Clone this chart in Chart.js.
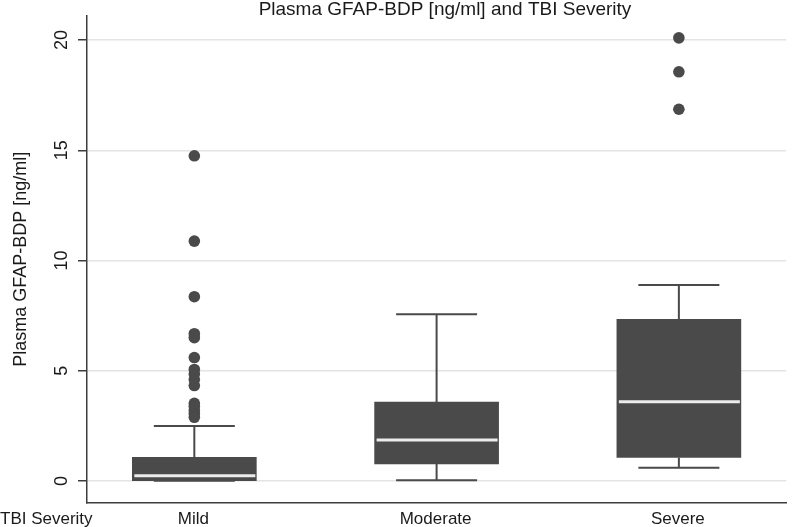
<!DOCTYPE html>
<html><head><meta charset="utf-8">
<script src="https://cdn.jsdelivr.net/npm/chart.js@4.4.0/dist/chart.umd.min.js"></script>
<style>html,body{margin:0;padding:0;background:#fff}canvas{display:block}</style>
</head><body>
<canvas id="c" width="792" height="527"></canvas>
<script>
// ---- data ----
const categories = ['Mild', 'Moderate', 'Severe'];
const whiskerLow  = [0.01, 0.03, 0.60];
const q1          = [0.01, 0.77, 1.07];
const median      = [0.24, 1.86, 3.60];
const q3          = [1.07, 3.58, 7.33];
const whiskerHigh = [2.49, 7.56, 8.89];
const outliersMild     = [14.75, 10.88, 8.36, 6.68, 6.50, 5.60, 5.06, 4.85, 4.60, 4.33, 3.52, 3.38, 3.20, 3.05, 2.89];
const outliersModerate = [];
const outliersSevere   = [20.10, 18.56, 16.86];
const yTicks = [0, 5, 10, 15, 20];
const chartTitle = 'Plasma GFAP-BDP [ng/ml] and TBI Severity';
const yTitle = 'Plasma GFAP-BDP [ng/ml]';
const xTitle = 'TBI Severity';

// ---- styling ----
const FONT = '"Liberation Sans", Arial, Helvetica, sans-serif';
const DARK = '#4a4a4a';
const AXIS = '#3c3c3c';
const TEXT = '#1a1a1a';

const outlierGroups = [outliersMild, outliersModerate, outliersSevere];
const outlierPoints = [];
outlierGroups.forEach((g, i) => g.forEach(v => outlierPoints.push({x: i + 1, y: v})));

const boxPlugin = {
  id: 'boxparts',
  beforeDatasetsDraw(chart) {
    const {ctx, scales: {x, y}} = chart;
    ctx.save();
    ctx.strokeStyle = DARK;
    ctx.lineWidth = 2;
    categories.forEach((c, i) => {
      const px = x.getPixelForValue(i + 1);
      const half = 40.5;
      ctx.beginPath();
      ctx.moveTo(px, y.getPixelForValue(whiskerLow[i]));
      ctx.lineTo(px, y.getPixelForValue(q1[i]));
      ctx.moveTo(px, y.getPixelForValue(q3[i]));
      ctx.lineTo(px, y.getPixelForValue(whiskerHigh[i]));
      ctx.moveTo(px - half, y.getPixelForValue(whiskerLow[i]));
      ctx.lineTo(px + half, y.getPixelForValue(whiskerLow[i]));
      ctx.moveTo(px - half, y.getPixelForValue(whiskerHigh[i]));
      ctx.lineTo(px + half, y.getPixelForValue(whiskerHigh[i]));
      ctx.stroke();
    });
    ctx.restore();
  },
  afterDatasetsDraw(chart) {
    const {ctx, scales: {x, y}} = chart;
    ctx.save();
    ctx.strokeStyle = '#ececec';
    ctx.lineWidth = 3;
    categories.forEach((c, i) => {
      const px = x.getPixelForValue(i + 1);
      const py = y.getPixelForValue(median[i]);
      ctx.beginPath();
      ctx.moveTo(px - 60, py);
      ctx.lineTo(px + 61, py);
      ctx.stroke();
    });
    ctx.restore();
  },
  afterDraw(chart) {
    const {ctx, chartArea, scales: {x, y}} = chart;
    ctx.save();
    ctx.fillStyle = TEXT;
    // title
    ctx.font = '19px ' + FONT;
    ctx.textAlign = 'center';
    ctx.textBaseline = 'alphabetic';
    ctx.fillText(chartTitle, 445, 15);
    // y tick labels (rotated)
    ctx.font = '18px ' + FONT;
    yTicks.forEach(v => {
      const py = y.getPixelForValue(v);
      ctx.save();
      ctx.translate(67, py);
      ctx.rotate(-Math.PI / 2);
      ctx.textAlign = 'center';
      ctx.textBaseline = 'alphabetic';
      ctx.fillText(String(v), 0, 0);
      ctx.restore();
    });
    // y title
    ctx.save();
    ctx.font = '18px ' + FONT;
    ctx.translate(26, (chartArea.top + chartArea.bottom) / 2);
    ctx.rotate(-Math.PI / 2);
    ctx.textAlign = 'center';
    ctx.textBaseline = 'alphabetic';
    ctx.fillText(yTitle, 0, 0);
    ctx.restore();
    // x labels
    ctx.font = '17px ' + FONT;
    ctx.textAlign = 'center';
    ctx.textBaseline = 'middle';
    categories.forEach((c, i) => {
      ctx.fillText(c, x.getPixelForValue(i + 1) - 1, 519);
    });
    ctx.textAlign = 'left';
    ctx.fillText(xTitle, 0, 519);
    ctx.restore();
  }
};

new Chart(document.getElementById('c'), {
  type: 'bar',
  data: {
    datasets: [
      {
        type: 'bar',
        data: categories.map((c, i) => ({x: i + 1, y: [q1[i], q3[i]]})),
        backgroundColor: DARK,
        borderWidth: 0,
        barThickness: 124,
        order: 2
      },
      {
        type: 'scatter',
        data: outlierPoints,
        backgroundColor: DARK,
        borderWidth: 0,
        pointRadius: 5.8,
        order: 1
      }
    ]
  },
  options: {
    responsive: false,
    devicePixelRatio: 1,
    animation: false,
    layout: {padding: {top: 16, right: 1, bottom: 0, left: 0}},
    plugins: {legend: {display: false}, tooltip: {enabled: false}, title: {display: false}},
    scales: {
      x: {
        type: 'linear',
        offset: false,
        min: 0.557,
        max: 3.443,
        grid: {display: false},
        border: {display: true, color: AXIS, width: 1.5},
        ticks: {display: false},
        afterFit(s) { s.height = 24.5; }
      },
      y: {
        type: 'linear',
        min: -0.975,
        max: 21.09,
        afterBuildTicks(s) { s.ticks = yTicks.map(v => ({value: v})); },
        grid: {color: '#e4e4e4', lineWidth: 1.5, drawTicks: true, tickLength: 9, tickColor: AXIS, tickWidth: 1.5},
        border: {display: true, color: AXIS, width: 1.5},
        ticks: {display: false},
        afterFit(s) { s.width = 87; }
      }
    }
  },
  plugins: [boxPlugin]
});
</script>
</body></html>
